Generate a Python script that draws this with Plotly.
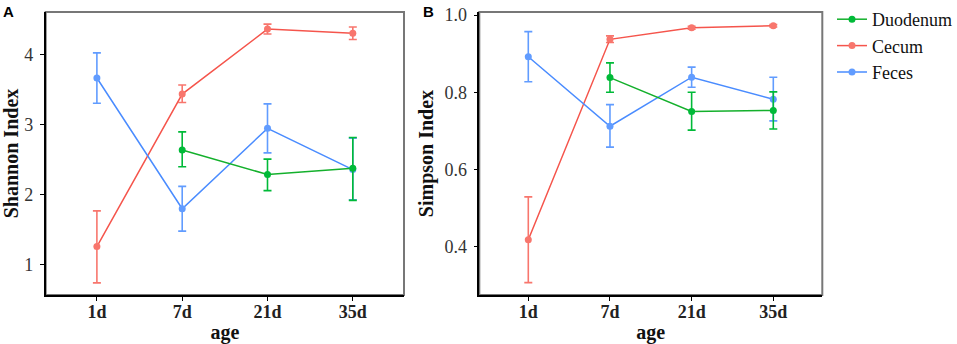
import plotly.graph_objects as go

ages = ["1d", "7d", "21d", "35d"]

# Panel A: Shannon index (mean, upper, lower)
sh_duo = [None, 2.64, 2.29, 2.38]
sh_duo_hi = [None, 2.90, 2.51, 2.82]
sh_duo_lo = [None, 2.40, 2.06, 1.92]
sh_cec = [1.26, 3.44, 4.37, 4.31]
sh_cec_hi = [1.77, 3.57, 4.44, 4.40]
sh_cec_lo = [0.74, 3.32, 4.30, 4.22]
sh_fec = [3.67, 1.80, 2.95, 2.36]
sh_fec_hi = [4.03, 2.12, 3.30, 2.81]
sh_fec_lo = [3.31, 1.48, 2.60, 1.93]

# Panel B: Simpson index (mean, upper, lower)
si_duo = [None, 0.838, 0.750, 0.753]
si_duo_hi = [None, 0.876, 0.800, 0.801]
si_duo_lo = [None, 0.800, 0.702, 0.705]
si_cec = [0.418, 0.937, 0.967, 0.972]
si_cec_hi = [0.529, 0.946, 0.971, 0.975]
si_cec_lo = [0.307, 0.929, 0.963, 0.969]
si_fec = [0.892, 0.712, 0.839, 0.782]
si_fec_hi = [0.957, 0.768, 0.865, 0.839]
si_fec_lo = [0.827, 0.658, 0.813, 0.726]

series_names = ["Duodenum", "Cecum", "Feces"]
colors = {"Duodenum": "#00BA38", "Cecum": "#F8766D", "Feces": "#619CFF"}
line_colors = {"Duodenum": "#14B02C", "Cecum": "#F5554C", "Feces": "#4A8CFF"}
ranks = {"Duodenum": 1, "Cecum": 2, "Feces": 3}

W, H = 957, 344
SERIF = "Liberation Serif, Times New Roman, serif"
SANS = "Liberation Sans, Arial, sans-serif"


def errs(mean, hi, lo):
    plus = [h - m for m, h in zip(mean, hi)]
    minus = [m - l for m, l in zip(mean, lo)]
    return plus, minus


fig = go.Figure()

panels = [
    ("x", "y", {"Cecum": (sh_cec, sh_cec_hi, sh_cec_lo),
                "Feces": (sh_fec, sh_fec_hi, sh_fec_lo),
                "Duodenum": (sh_duo, sh_duo_hi, sh_duo_lo)}, True),
    ("x2", "y2", {"Cecum": (si_cec, si_cec_hi, si_cec_lo),
                  "Feces": (si_fec, si_fec_hi, si_fec_lo),
                  "Duodenum": (si_duo, si_duo_hi, si_duo_lo)}, False),
]

for xa, ya, data, show in panels:
    for name in ["Cecum", "Feces", "Duodenum"]:
        m, hi, lo = data[name]
        keep = [i for i, v in enumerate(m) if v is not None]
        xs = [ages[i] for i in keep]
        ms = [m[i] for i in keep]
        his = [hi[i] for i in keep]
        los = [lo[i] for i in keep]
        plus, minus = errs(ms, his, los)
        fig.add_trace(go.Scatter(
            x=xs, y=ms, name=name, xaxis=xa, yaxis=ya,
            mode="lines+markers",
            line=dict(color=line_colors[name], width=1.5),
            marker=dict(color=colors[name], size=7),
            error_y=dict(type="data", array=plus, arrayminus=minus,
                         color=colors[name], thickness=1.6, width=4),
            showlegend=show, legendrank=ranks[name],
        ))


def px_x(a, b):
    return [a / W, b / W]


def px_y(top, bottom):
    return [1 - bottom / H, 1 - top / H]


xcommon = dict(type="category", categoryorder="array", categoryarray=ages,
               range=[-0.6, 3.6], showgrid=False, zeroline=False,
               showline=True, linecolor="black", linewidth=1.5,
               ticks="outside", ticklen=4, tickwidth=1.2, tickcolor="black",
               ticklabelstandoff=-4,
               tickfont=dict(family=SERIF, size=18, color="#222", weight="bold"),
               title=dict(text="age", font=dict(family=SERIF, size=20, color="#111", weight="bold"),
                          standoff=4))
ycommon = dict(showgrid=False, zeroline=False, showline=True, linecolor="black",
               linewidth=1.5, ticks="outside", ticklen=4, tickwidth=1.2,
               ticklabelstandoff=3,
               tickcolor="black", tickfont=dict(family=SERIF, size=18, color="#333"))

fig.update_layout(
    width=W, height=H,
    margin=dict(l=0, r=0, t=0, b=0, autoexpand=False),
    paper_bgcolor="white", plot_bgcolor="white",
    xaxis=dict(domain=px_x(45.7, 404), anchor="y", **xcommon),
    yaxis=dict(domain=px_y(12, 295), anchor="x", range=[0.567, 4.614],
               tickvals=[1, 2, 3, 4],
               title=dict(text="Shannon Index", font=dict(family=SERIF, size=20, color="#111", weight="bold"),
                          standoff=5),
               **ycommon),
    xaxis2=dict(domain=px_x(479.3, 822.3), anchor="y2", **xcommon),
    yaxis2=dict(domain=px_y(12, 295), anchor="x2", range=[0.275, 1.0078],
                tickvals=[0.4, 0.6, 0.8, 1.0], ticktext=["0.4", "0.6", "0.8", "1.0"],
                title=dict(text="Simpson Index", font=dict(family=SERIF, size=20, color="#111", weight="bold"),
                           standoff=5),
                **ycommon),
    legend=dict(x=832 / W, y=1 - 1 / H, xanchor="left", yanchor="top",
                font=dict(family=SERIF, size=18, color="#111"),
                bgcolor="rgba(0,0,0,0)", tracegroupgap=0, itemwidth=30),
    annotations=[
        dict(text="<b>A</b>", x=1 / W, y=1 - 1 / H, xref="paper", yref="paper",
             xanchor="left", yanchor="top", showarrow=False,
             font=dict(family=SANS, size=15, color="black")),
        dict(text="<b>B</b>", x=421 / W, y=1 - 1 / H, xref="paper", yref="paper",
             xanchor="left", yanchor="top", showarrow=False,
             font=dict(family=SANS, size=15, color="black")),
    ],
    shapes=[
        dict(type="rect", xref="x domain", yref="y domain", x0=0, x1=1, y0=0, y1=1,
             line=dict(color="#777", width=2), layer="below"),
        dict(type="rect", xref="x2 domain", yref="y2 domain", x0=0, x1=1, y0=0, y1=1,
             line=dict(color="#777", width=2), layer="below"),
    ],
)

fig.write_html("out.html", config={"displayModeBar": False},
               post_script="document.body.style.margin='0px';document.body.style.overflow='hidden';")
